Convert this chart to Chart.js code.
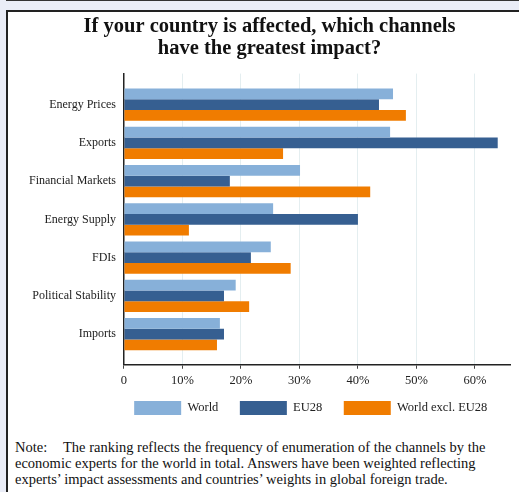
<!DOCTYPE html>
<html>
<head>
<meta charset="utf-8">
<script src="https://cdn.jsdelivr.net/npm/chart.js@4.4.1/dist/chart.umd.min.js"></script>
<style>
  html, body { margin: 0; padding: 0; width: 519px; height: 492px; overflow: hidden; background: #eaedf7; }
  #topline { position: absolute; left: 6px; top: 0; width: 600px; height: 1px; background: #333; }
  #frame { position: absolute; left: 6px; top: 10px; width: 600px; height: 500px; background: #fff;
           border-left: 2px solid #222; border-top: 2px solid #222; }
  #wrap { position: absolute; left: 8px; top: 12px; width: 546px; height: 413px; }
  #note { position: absolute; left: 15px; top: 439px; font: 14.5px "Liberation Serif", "Times New Roman", serif;
          line-height: 16px; color: #111; white-space: nowrap; }
  #note .lbl { display: inline-block; width: 48px; }
</style>
</head>
<body>
<div id="topline"></div>
<div id="frame"></div>
<div id="wrap"><canvas id="chart" width="546" height="413"></canvas></div>
<div id="note"><span class="lbl">Note:</span>The ranking reflects the frequency of enumeration of the channels by the<br>economic experts for the world in total. Answers have been weighted reflecting<br>experts’ impact assessments and countries’ weights in global foreign trade.</div>
<script>
// data (percent)
const categories = ['Energy Prices', 'Exports', 'Financial Markets', 'Energy Supply', 'FDIs', 'Political Stability', 'Imports'];
const seriesNames = ['World', 'EU28', 'World excl. EU28'];
const world = [46.0, 45.5, 30.1, 25.5, 25.1, 19.1, 16.4];
const eu28 = [43.6, 63.9, 18.1, 40.0, 21.7, 17.1, 17.1];
const worldExcl = [48.2, 27.2, 42.1, 11.1, 28.5, 21.4, 15.9];
const xTicks = [0, 10, 20, 30, 40, 50, 60];

const colors = ['#87b0d9', '#365f91', '#f07c00'];
const serif = '"Liberation Serif", "Times New Roman", serif';

function toPoints(arr) {
	return arr.map(function(v, i) { return { x: v, y: i }; });
}

const data = {
	datasets: [world, eu28, worldExcl].map(function(arr, k) {
		return {
			label: seriesNames[k],
			data: toPoints(arr),
			backgroundColor: colors[k],
			borderWidth: 0,
			barPercentage: 1,
			categoryPercentage: 0.84
		};
	})
};

const config = {
	type: 'bar',
	data: data,
	options: {
		indexAxis: 'y',
		responsive: false,
		animation: false,
		layout: { padding: { left: 21, right: 44, top: 0, bottom: 0 } },
		scales: {
			x: {
				type: 'linear',
				min: 0,
				max: 66,
				bounds: 'data',
				grid: { color: '#e4eef0', lineWidth: 1, tickLength: 4, tickColor: '#444' },
				border: { color: '#222', width: 1.5 },
				afterBuildTicks: function(axis) {
					axis.ticks = xTicks.map(function(v) { return { value: v }; });
				},
				ticks: {
					color: '#222',
					padding: 11,
					font: { family: serif, size: 12.5, lineHeight: 0.1 },
					callback: function(v) { return v === 0 ? '0' : v + '%'; }
				}
			},
			y: {
				type: 'linear',
				reverse: true,
				offset: false,
				min: -0.81,
				max: 6.8,
				bounds: 'data',
				grid: { display: false, offset: false },
				border: { color: '#222', width: 1.5 },
				// one tick per category
				afterBuildTicks: function(axis) {
					axis.ticks = categories.map(function(c, i) { return { value: i }; });
				},
				ticks: {
					autoSkip: false,
					color: '#222',
					padding: 0,
					font: { family: serif, size: 12 },
					callback: function(v) { return categories[v] || ''; }
				}
			}
		},
		plugins: {
			title: {
				display: true,
				text: ['If your country is affected, which channels', 'have the greatest impact?'],
				color: '#111',
				font: { family: serif, size: 20.5, weight: 'bold', lineHeight: 1.1 },
				padding: { top: 3, bottom: 13.5 }
			},
			legend: {
				position: 'bottom',
				fullSize: false,
				labels: {
					boxWidth: 47,
					boxHeight: 14,
					padding: 9,
					color: '#222',
					font: { family: serif, size: 12.5 },
					// extra space after each label, keeps the items spread out
					generateLabels: function(chart) {
						const items = Chart.defaults.plugins.legend.labels.generateLabels(chart);
						items.forEach(function(it) { it.text = it.text + '\u2002\u2002'; });
						return items;
					}
				}
			},
			tooltip: { enabled: false }
		}
	}
};

let ctx = document.getElementById('chart').getContext('2d');
let chart = new Chart(ctx, config);
</script>
</body>
</html>
